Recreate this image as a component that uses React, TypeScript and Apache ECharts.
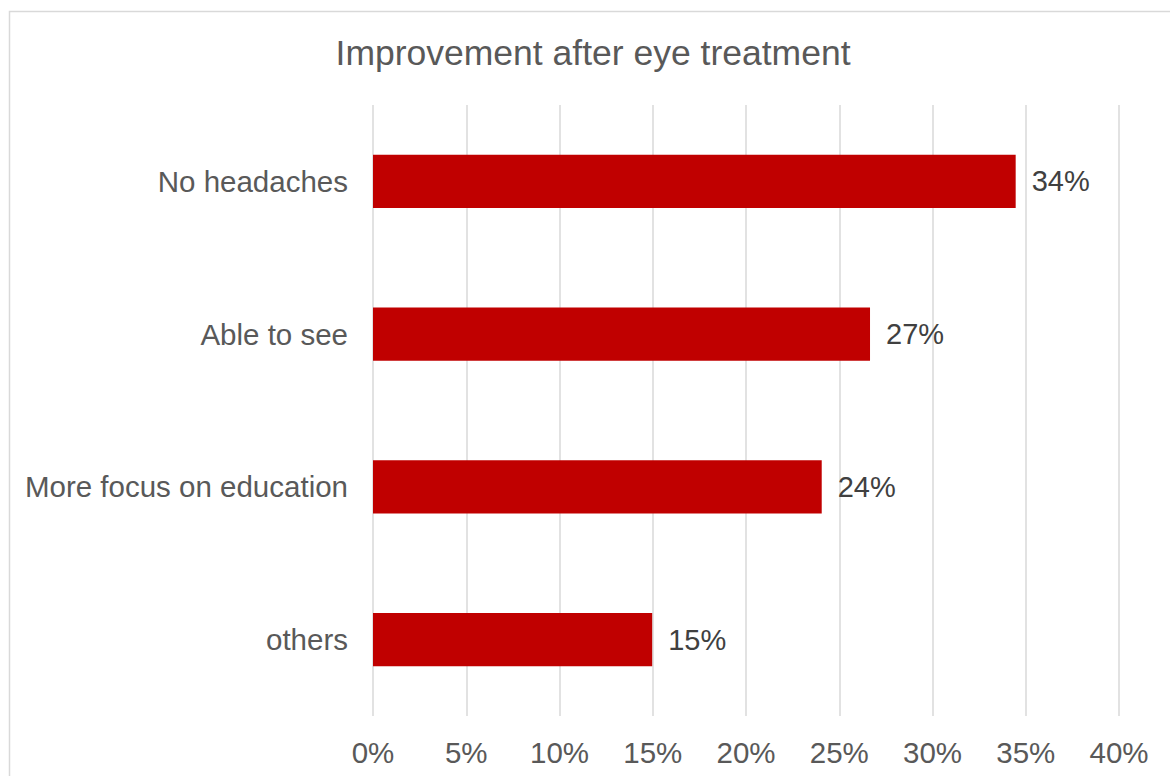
import React, { useEffect, useRef } from "react";
import * as echarts from "echarts";

const title = "Improvement after eye treatment";
const categories = ["No headaches", "Able to see", "More focus on education", "others"];
const values = [34.46, 26.65, 24.06, 14.97];
const axisMin = 0;
const axisMax = 40;
const axisStep = 5;

const FONT = "'Liberation Sans', Arial, sans-serif";

export default function App() {
  const ref = useRef<HTMLDivElement>(null);
  useEffect(() => {
    if (!ref.current) return;
    const chart = echarts.init(ref.current, null, { renderer: "svg" });
    chart.setOption({
      animation: false,
      backgroundColor: "#ffffff",
      graphic: [
        {
          type: "rect",
          shape: { x: 9.5, y: 11.5, width: 1200, height: 800 },
          style: { fill: "none", stroke: "#D9D9D9", lineWidth: 1.5 },
          silent: true,
          z: 100,
        },
        {
          type: "text",
          x: 593,
          y: 53,
          style: {
            text: title,
            fontFamily: FONT,
            fontSize: 35.5,
            fill: "#595959",
            align: "center",
            verticalAlign: "middle",
          },
          silent: true,
        },
      ],
      grid: { left: 373, right: 51, top: 105, bottom: 60, containLabel: false },
      xAxis: {
        type: "value",
        min: axisMin,
        max: axisMax,
        interval: axisStep,
        axisLine: { show: false },
        axisTick: { show: false },
        splitLine: { show: true, lineStyle: { color: "#D9D9D9", width: 1.5 } },
        axisLabel: {
          formatter: "{value}%",
          fontFamily: FONT,
          fontSize: 29.5,
          color: "#595959",
          margin: 21,
        },
      },
      yAxis: {
        type: "category",
        data: categories,
        inverse: true,
        axisLine: { show: false },
        axisTick: { show: false },
        splitLine: { show: false },
        axisLabel: {
          fontFamily: FONT,
          fontSize: 29.5,
          color: "#595959",
          margin: 25,
        },
      },
      series: [
        {
          type: "bar",
          data: values,
          barCategoryGap: "65%",
          itemStyle: { color: "#C00000" },
          label: {
            show: true,
            position: "right",
            distance: 16,
            fontFamily: FONT,
            fontSize: 29,
            color: "#404040",
            formatter: (p: any) => `${Math.round(p.value)}%`,
          },
        },
      ],
    });
    return () => chart.dispose();
  }, []);
  return (
    <div
      ref={ref}
      style={{ position: "absolute", left: 0, top: 0, width: 1170, height: 776 }}
    />
  );
}
